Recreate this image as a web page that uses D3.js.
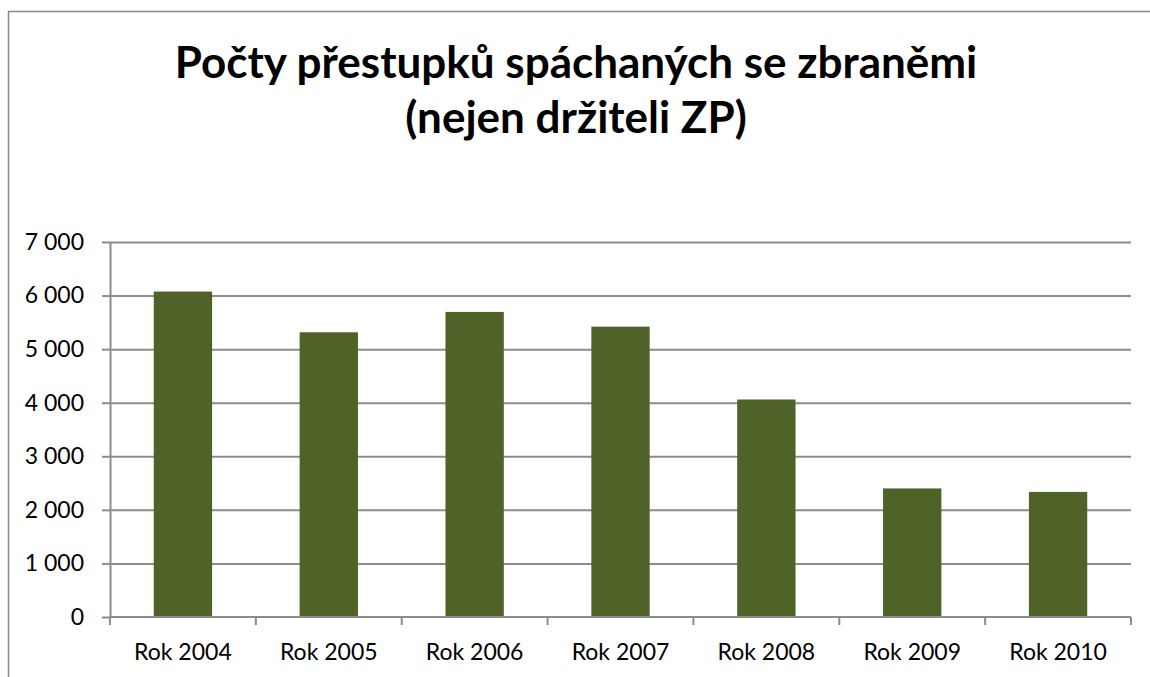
<!DOCTYPE html>
<meta charset="utf-8">
<style>
body { margin: 0; background: #fff; }
.grid line { stroke: #8c8c8c; stroke-width: 2px; }
.grid path { display: none; }
.axis path, .axis line { stroke: #8c8c8c; stroke-width: 2px; }
.axis text { font-family: Lato, "Open Sans", sans-serif; font-size: 23px; fill: #000; }
</style>
<body>
<script src="https://d3js.org/d3.v7.min.js"></script>
<script>

// data
var years = ["Rok 2004", "Rok 2005", "Rok 2006", "Rok 2007", "Rok 2008", "Rok 2009", "Rok 2010"];
var counts = [6075, 5315, 5695, 5420, 4060, 2400, 2335];
var yTicks = [0, 1000, 2000, 3000, 4000, 5000, 6000, 7000];
var titleLines = ["Počty přestupků spáchaných se zbraněmi", "(nejen držiteli ZP)"];

var W = 1150, H = 677;
var margin = {top: 242, right: 19, bottom: 60, left: 110},
    width = W - margin.left - margin.right,
    height = H - margin.top - margin.bottom;

var svg = d3.select("body").append("svg")
    .attr("width", W)
    .attr("height", H);

// outer frame (runs off right and bottom)
svg.append("path")
    .attr("d", "M8.5," + (H + 5) + "V11.5H" + (W + 5))
    .attr("fill", "none")
    .attr("stroke", "#888")
    .attr("stroke-width", 1.5);

svg.selectAll(".title")
    .data(titleLines)
    .enter().append("text")
    .attr("x", 576)
    .attr("y", function(d, i) { return 78 + i * 55; })
    .attr("text-anchor", "middle")
    .style("font-family", "Lato, 'Open Sans', sans-serif")
    .style("font-weight", "bold")
    .style("font-size", "44px")
    .text(function(d) { return d; });

var g = svg.append("g")
    .attr("transform", "translate(" + margin.left + "," + margin.top + ")");

var x = d3.scaleBand()
    .domain(years)
    .range([0, width])
    .paddingInner(0.6)
    .paddingOuter(0.3);

var y = d3.scaleLinear()
    .domain([0, 7000])
    .range([height, 0]);

// gridlines
g.append("g")
    .attr("class", "grid")
    .call(d3.axisLeft(y).tickValues(yTicks.slice(1)).tickSize(-width).tickFormat(""));

g.selectAll(".bar")
    .data(counts)
    .enter().append("rect")
    .attr("class", "bar")
    .attr("x", function(d, i) { return x(years[i]); })
    .attr("width", x.bandwidth())
    .attr("y", function(d) { return y(d); })
    .attr("height", function(d) { return height - y(d); })
    .attr("fill", "#4f6228");

var fmt = function(d) { return d3.format(",")(d).replace(/,/g, " "); };

g.append("g")
    .attr("class", "axis")
    .call(d3.axisLeft(y).tickValues(yTicks).tickSize(8).tickSizeOuter(0).tickPadding(18).tickFormat(fmt));

// x axis with ticks between categories
var step = width / years.length;
var xAxis = g.append("g")
    .attr("class", "axis")
    .attr("transform", "translate(0," + height + ")");
xAxis.append("line")
    .attr("x1", 0).attr("x2", width);
xAxis.selectAll(".tk")
    .data(d3.range(years.length + 1))
    .enter().append("line")
    .attr("x1", function(i) { return i * step; })
    .attr("x2", function(i) { return i * step; })
    .attr("y1", 0).attr("y2", 8);
xAxis.selectAll(".lbl")
    .data(years)
    .enter().append("text")
    .attr("x", function(d) { return x(d) + x.bandwidth() / 2; })
    .attr("y", 43)
    .attr("text-anchor", "middle")
    .text(function(d) { return d; });

</script>
</body>
